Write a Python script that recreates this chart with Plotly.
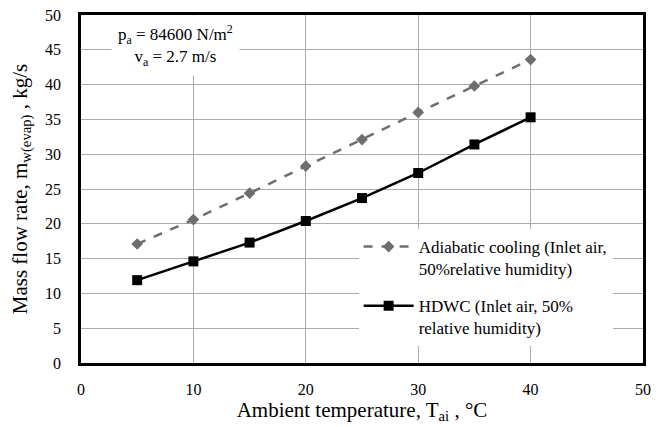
import plotly.graph_objects as go

temps = [5, 10, 15, 20, 25, 30, 35, 40]
adiabatic = [17.1, 20.6, 24.4, 28.3, 32.1, 36.0, 39.8, 43.6]
hdwc = [11.9, 14.6, 17.3, 20.4, 23.7, 27.3, 31.4, 35.3]

name_adiabatic = "Adiabatic cooling (Inlet air,<br>50%relative humidity)"
name_hdwc = "HDWC (Inlet air, 50%<br>relative humidity)"

font_family = "Times New Roman, Liberation Serif, serif"

fig = go.Figure()
fig.add_trace(go.Scatter(
    x=temps, y=adiabatic, name=name_adiabatic, mode="lines+markers",
    legendgroup="adiabatic",
    line=dict(color="#6e6e6e", width=2.5, dash="dash"),
    marker=dict(symbol="diamond", size=9, color="#6e6e6e"),
))
fig.add_trace(go.Scatter(
    x=temps, y=hdwc, name=name_hdwc, mode="lines+markers",
    legendgroup="hdwc",
    line=dict(color="black", width=2.5),
    marker=dict(symbol="square", size=10, color="black"),
))

# page body has an 8px margin: size the figure so the plot area lands at 81..643 x 15..363
fig.update_layout(
    width=657, height=419,
    margin=dict(l=73, r=22, t=7, b=64, autoexpand=False),
    paper_bgcolor="white", plot_bgcolor="white",
    font=dict(family=font_family, size=16, color="black"),
    showlegend=True,
    legend=dict(
        x=0.494, y=0.385, xanchor="left", yanchor="top",
        bgcolor="white", borderwidth=0, valign="top",
        font=dict(family=font_family, size=17, color="black"),
        tracegroupgap=12, itemwidth=50,
    ),
)
fig.update_xaxes(
    range=[0, 50], dtick=10, tick0=0, automargin=False,
    showgrid=True, gridcolor="#ababab", gridwidth=1,
    showline=True, linecolor="black", linewidth=2.5, mirror=True,
    ticks="", zeroline=False, ticklabelstandoff=10, ticklabeloverflow="allow",
    title=dict(text="Ambient temperature, T<sub>ai</sub> , °C",
               font=dict(family=font_family, size=21), standoff=3),
)
fig.update_yaxes(
    range=[0, 50], dtick=5, tick0=0, automargin=False,
    showgrid=True, gridcolor="#ababab", gridwidth=1,
    showline=True, linecolor="black", linewidth=2.5, mirror=True,
    ticks="", zeroline=False, ticklabelstandoff=14, ticklabeloverflow="allow",
    title=dict(text="Mass flow rate, m<sub>w(evap)</sub> , kg/s",
               font=dict(family=font_family, size=21), standoff=13),
)
fig.add_annotation(
    x=8.4, y=45.6, xref="x", yref="y",
    text="p<sub>a</sub> = 84600 N/m<sup>2</sup><br>v<sub>a</sub> = 2.7 m/s",
    showarrow=False, align="center",
    bgcolor="white", borderpad=6,
    font=dict(family=font_family, size=17, color="black"),
)

fig.write_html("out.html")
